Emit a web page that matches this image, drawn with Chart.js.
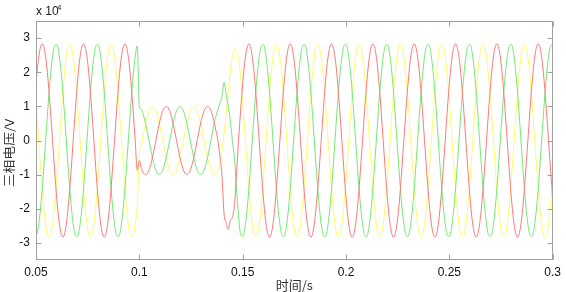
<!DOCTYPE html>
<html>
<head>
<meta charset="utf-8">
<script src="https://cdn.jsdelivr.net/npm/chart.js@4.4.1/dist/chart.umd.min.js"></script>
<style>
  body { margin: 0; background: #fff; }
  canvas { display: block; }
</style>
</head>
<body>
<canvas id="myChart" width="566" height="292"></canvas>
<script>
// three phase voltage, in units of 1e4 V, sampled every 1 ms from 0.05 s to 0.30 s
const redPhase = [
  1.66, 2.29, 2.69,
  2.83, 2.69, 2.29, 1.66, 0.87, 0, -0.87, -1.66, -2.29, -2.69, -2.83, -2.69, -2.29, -1.66, -0.87, 0, 0.87, 1.66, 2.29, 2.69,
  2.83, 2.69, 2.29, 1.66, 0.87, 0, -0.87, -1.66, -2.29, -2.69, -2.83, -2.69, -2.29, -1.66, -0.87, 0, 0.87, 1.66, 2.29, 2.69,
  2.83, 2.69, 2.29, 1.66, 0.87, 0, -0.87,
  // fault
  -0.59, -0.81, -0.95, -1, -0.95, -0.81, -0.59, -0.31, 0, 0.31, 0.59, 0.81, 0.95,
  1, 0.95, 0.81, 0.59, 0.31, 0, -0.31, -0.59, -0.81, -0.95, -1, -0.95, -0.81, -0.59, -0.31, 0, 0.31, 0.59, 0.81, 0.95,
  1, 0.95, 0.81, 0.59, 0.31, 0,
  // recovery
  -0.45, -1.05, -2.15, -2.4, -2.6, -2.35, -2.25, -1.9, -1.0, 0, 0.87,
  1.66, 2.29, 2.69,
  2.83, 2.69, 2.29, 1.66, 0.87, 0, -0.87, -1.66, -2.29, -2.69, -2.83, -2.69, -2.29, -1.66, -0.87, 0, 0.87, 1.66, 2.29, 2.69,
  2.83, 2.69, 2.29, 1.66, 0.87, 0, -0.87, -1.66, -2.29, -2.69, -2.83, -2.69, -2.29, -1.66, -0.87, 0, 0.87, 1.66, 2.29, 2.69,
  2.83, 2.69, 2.29, 1.66, 0.87, 0, -0.87, -1.66, -2.29, -2.69, -2.83, -2.69, -2.29, -1.66, -0.87, 0, 0.87, 1.66, 2.29, 2.69,
  2.83, 2.69, 2.29, 1.66, 0.87, 0, -0.87, -1.66, -2.29, -2.69, -2.83, -2.69, -2.29, -1.66, -0.87, 0, 0.87, 1.66, 2.29, 2.69,
  2.83, 2.69, 2.29, 1.66, 0.87, 0, -0.87, -1.66, -2.29, -2.69, -2.83, -2.69, -2.29, -1.66, -0.87, 0, 0.87, 1.66, 2.29, 2.69,
  2.83, 2.69, 2.29, 1.66, 0.87, 0, -0.87, -1.66, -2.29, -2.69, -2.83, -2.69, -2.29, -1.66, -0.87, 0, 0.87, 1.66, 2.29, 2.69,
  2.83, 2.69, 2.29, 1.66, 0.87, 0, -0.87, -1.66, -2.29, -2.69, -2.83, -2.69, -2.29, -1.66, -0.87, 0, 0.87, 1.66, 2.29, 2.69,
  2.83, 2.69, 2.29, 1.66, 0.87, 0, -0.87, -1.66
];

const greenPhase = [
  -2.81, -2.59, -2.1,
  -1.42, -0.59, 0.3, 1.15, 1.89, 2.45, 2.77, 2.81, 2.59, 2.1, 1.42, 0.59, -0.3, -1.15, -1.89, -2.45, -2.77, -2.81, -2.59, -2.1,
  -1.42, -0.59, 0.3, 1.15, 1.89, 2.45, 2.77, 2.81, 2.59, 2.1, 1.42, 0.59, -0.3, -1.15, -1.89, -2.45, -2.77, -2.81, -2.59, -2.1,
  -1.42, -0.59, 0.3, 1.15, 1.89, 2.45, 2.77,
  // fault
  0.99, 0.91, 0.74, 0.5, 0.21, -0.1, -0.41, -0.67, -0.87, -0.98, -0.99, -0.91, -0.74,
  -0.5, -0.21, 0.1, 0.41, 0.67, 0.87, 0.98, 0.99, 0.91, 0.74, 0.5, 0.21, -0.1, -0.41, -0.67, -0.87, -0.98, -0.99, -0.91, -0.74,
  -0.5, -0.21, 0.1,
  // recovery
  0.45, 0.7, 0.9, 1.1, 1.3, 1.7, 1.35, 1.0, 0.6, 0, -0.5, -1.4, -2.2, -2.75,
  -2.81, -2.59, -2.1,
  -1.42, -0.59, 0.3, 1.15, 1.89, 2.45, 2.77, 2.81, 2.59, 2.1, 1.42, 0.59, -0.3, -1.15, -1.89, -2.45, -2.77, -2.81, -2.59, -2.1,
  -1.42, -0.59, 0.3, 1.15, 1.89, 2.45, 2.77, 2.81, 2.59, 2.1, 1.42, 0.59, -0.3, -1.15, -1.89, -2.45, -2.77, -2.81, -2.59, -2.1,
  -1.42, -0.59, 0.3, 1.15, 1.89, 2.45, 2.77, 2.81, 2.59, 2.1, 1.42, 0.59, -0.3, -1.15, -1.89, -2.45, -2.77, -2.81, -2.59, -2.1,
  -1.42, -0.59, 0.3, 1.15, 1.89, 2.45, 2.77, 2.81, 2.59, 2.1, 1.42, 0.59, -0.3, -1.15, -1.89, -2.45, -2.77, -2.81, -2.59, -2.1,
  -1.42, -0.59, 0.3, 1.15, 1.89, 2.45, 2.77, 2.81, 2.59, 2.1, 1.42, 0.59, -0.3, -1.15, -1.89, -2.45, -2.77, -2.81, -2.59, -2.1,
  -1.42, -0.59, 0.3, 1.15, 1.89, 2.45, 2.77, 2.81, 2.59, 2.1, 1.42, 0.59, -0.3, -1.15, -1.89, -2.45, -2.77, -2.81, -2.59, -2.1,
  -1.42, -0.59, 0.3, 1.15, 1.89, 2.45, 2.77, 2.81, 2.59, 2.1, 1.42, 0.59, -0.3, -1.15, -1.89, -2.45, -2.77, -2.81, -2.59, -2.1,
  -1.42, -0.59, 0.3, 1.15, 1.89, 2.45, 2.77, 2.81
];

const yellowPhase = [
  1.15, 0.3, -0.59,
  -1.42, -2.1, -2.59, -2.81, -2.77, -2.45, -1.89, -1.15, -0.3, 0.59, 1.42, 2.1, 2.59, 2.81, 2.77, 2.45, 1.89, 1.15, 0.3, -0.59,
  -1.42, -2.1, -2.59, -2.81, -2.77, -2.45, -1.89, -1.15, -0.3, 0.59, 1.42, 2.1, 2.59, 2.81, 2.77, 2.45, 1.89, 1.15, 0.3, -0.59,
  -1.42, -2.1, -2.59, -2.81, -2.77, -2.45, -1.89,
  // fault
  -0.41, -0.1, 0.21, 0.5, 0.74, 0.91, 0.99, 0.98, 0.87, 0.67, 0.41, 0.1, -0.21,
  -0.5, -0.74, -0.91, -0.99, -0.98, -0.87, -0.67, -0.41, -0.1, 0.21, 0.5, 0.74, 0.91, 0.99, 0.98, 0.87, 0.67, 0.41, 0.1, -0.21,
  -0.5, -0.74, -0.91, -0.99, -0.98, -0.87, -0.67,
  // recovery
  -0.3, 0.2, 0.8, 1.4, 2.0, 2.45, 2.68, 2.62, 2.4,
  1.89,
  1.15, 0.3, -0.59,
  -1.42, -2.1, -2.59, -2.81, -2.77, -2.45, -1.89, -1.15, -0.3, 0.59, 1.42, 2.1, 2.59, 2.81, 2.77, 2.45, 1.89, 1.15, 0.3, -0.59,
  -1.42, -2.1, -2.59, -2.81, -2.77, -2.45, -1.89, -1.15, -0.3, 0.59, 1.42, 2.1, 2.59, 2.81, 2.77, 2.45, 1.89, 1.15, 0.3, -0.59,
  -1.42, -2.1, -2.59, -2.81, -2.77, -2.45, -1.89, -1.15, -0.3, 0.59, 1.42, 2.1, 2.59, 2.81, 2.77, 2.45, 1.89, 1.15, 0.3, -0.59,
  -1.42, -2.1, -2.59, -2.81, -2.77, -2.45, -1.89, -1.15, -0.3, 0.59, 1.42, 2.1, 2.59, 2.81, 2.77, 2.45, 1.89, 1.15, 0.3, -0.59,
  -1.42, -2.1, -2.59, -2.81, -2.77, -2.45, -1.89, -1.15, -0.3, 0.59, 1.42, 2.1, 2.59, 2.81, 2.77, 2.45, 1.89, 1.15, 0.3, -0.59,
  -1.42, -2.1, -2.59, -2.81, -2.77, -2.45, -1.89, -1.15, -0.3, 0.59, 1.42, 2.1, 2.59, 2.81, 2.77, 2.45, 1.89, 1.15, 0.3, -0.59,
  -1.42, -2.1, -2.59, -2.81, -2.77, -2.45, -1.89, -1.15, -0.3, 0.59, 1.42, 2.1, 2.59, 2.81, 2.77, 2.45, 1.89, 1.15, 0.3, -0.59,
  -1.42, -2.1, -2.59, -2.81, -2.77, -2.45, -1.89, -1.15
];

const xTicks = [0.05, 0.1, 0.15, 0.2, 0.25, 0.3];
const xTickLabels = ['0.05', '0.1', '0.15', '0.2', '0.25', '0.3'];
const yTicks = [-3, -2, -1, 0, 1, 2, 3];
const yTickLabels = ['-3', '-2', '-1', '0', '1', '2', '3'];

// time axis: 1 ms steps starting at 0.05 s
const times = [];
for (let i = 0; i < redPhase.length; i++) {
    times.push(Math.round((0.05 + i * 0.001) * 1000) / 1000);
}
const toPoints = arr => arr.map((v, i) => ({ x: times[i], y: v }));

const labelFont = { family: 'Liberation Sans, Arial, sans-serif', size: 12 };
const axisColor = '#a0a0a0';

// matlab style box with inward ticks and the axis texts
const frame = {
    id: 'frame',
    afterDraw(chart) {
        const { ctx, chartArea: a, scales: { x, y } } = chart;
        ctx.save();
        ctx.strokeStyle = axisColor;
        ctx.lineWidth = 1;
        const L = Math.round(a.left) + 0.5, R = Math.round(a.right) - 0.5;
        const T = Math.round(a.top) + 0.5, B = Math.round(a.bottom) - 0.5;
        ctx.strokeRect(L, T, R - L, B - T);
        ctx.beginPath();
        yTicks.forEach(v => {
            const py = Math.round(y.getPixelForValue(v)) + 0.5;
            ctx.moveTo(L, py); ctx.lineTo(L + 5, py);
            ctx.moveTo(R, py); ctx.lineTo(R - 5, py);
        });
        xTicks.forEach(v => {
            const px = Math.round(x.getPixelForValue(v)) + 0.5;
            ctx.moveTo(px, B); ctx.lineTo(px, B - 5);
            ctx.moveTo(px, T); ctx.lineTo(px, T + 5);
        });
        ctx.stroke();

        ctx.fillStyle = '#222';
        ctx.textBaseline = 'alphabetic';
        ctx.textAlign = 'left';
        ctx.font = '12px Liberation Sans, Arial, sans-serif';
        ctx.fillText('x 10', a.left, 15);
        ctx.font = '8px Liberation Sans, Arial, sans-serif';
        ctx.fillText('4', a.left + 21, 10);

        ctx.fillStyle = '#333';
        ctx.textAlign = 'center';
        ctx.textBaseline = 'middle';
        ctx.font = '13px "Noto Sans CJK SC", sans-serif';
        ctx.fillText('时间/s', (a.left + a.right) / 2, 285);

        ctx.translate(9, 153);
        ctx.rotate(-Math.PI / 2);
        ctx.scale(1.15, 1);
        ctx.font = '12px "Noto Sans CJK SC", sans-serif';
        ctx.fillText('三相电压/V', 0, 0);
        ctx.restore();
    }
};

const ctx = document.getElementById('myChart').getContext('2d');
const myChart = new Chart(ctx, {
    type: 'line',
    data: {
        datasets: [
            { label: 'A', data: toPoints(redPhase), borderColor: 'rgb(255,120,120)' },
            { label: 'B', data: toPoints(greenPhase), borderColor: 'rgb(115,232,115)' },
            { label: 'C', data: toPoints(yellowPhase), borderColor: 'rgb(252,252,105)' }
        ]
    },
    options: {
        responsive: false,
        animation: false,
        devicePixelRatio: 1,
        layout: { padding: { top: 21, right: 9, left: 0, bottom: 0 } },
        elements: {
            point: { radius: 0 },
            line: { borderWidth: 1, cubicInterpolationMode: 'monotone' }
        },
        plugins: { legend: { display: false }, tooltip: { enabled: false } },
        scales: {
            x: {
                type: 'linear',
                min: 0.05,
                max: 0.3,
                afterBuildTicks: s => { s.ticks = xTicks.map(v => ({ value: v })); },
                afterFit: s => { s.height = 32; },
                grid: { display: false, drawTicks: false },
                border: { display: false },
                ticks: {
                    autoSkip: false, maxRotation: 0, padding: 5,
                    color: '#111', font: labelFont,
                    callback: (v, i) => xTickLabels[i]
                }
            },
            y: {
                type: 'linear',
                min: -3.5,
                max: 3.5,
                afterBuildTicks: s => { s.ticks = yTicks.map(v => ({ value: v })); },
                afterFit: s => { s.width = 36; },
                grid: { display: false, drawTicks: false },
                border: { display: false },
                ticks: {
                    autoSkip: false, padding: 6,
                    color: '#111', font: labelFont,
                    callback: (v, i) => yTickLabels[i]
                }
            }
        }
    },
    plugins: [frame]
});
</script>
</body>
</html>
